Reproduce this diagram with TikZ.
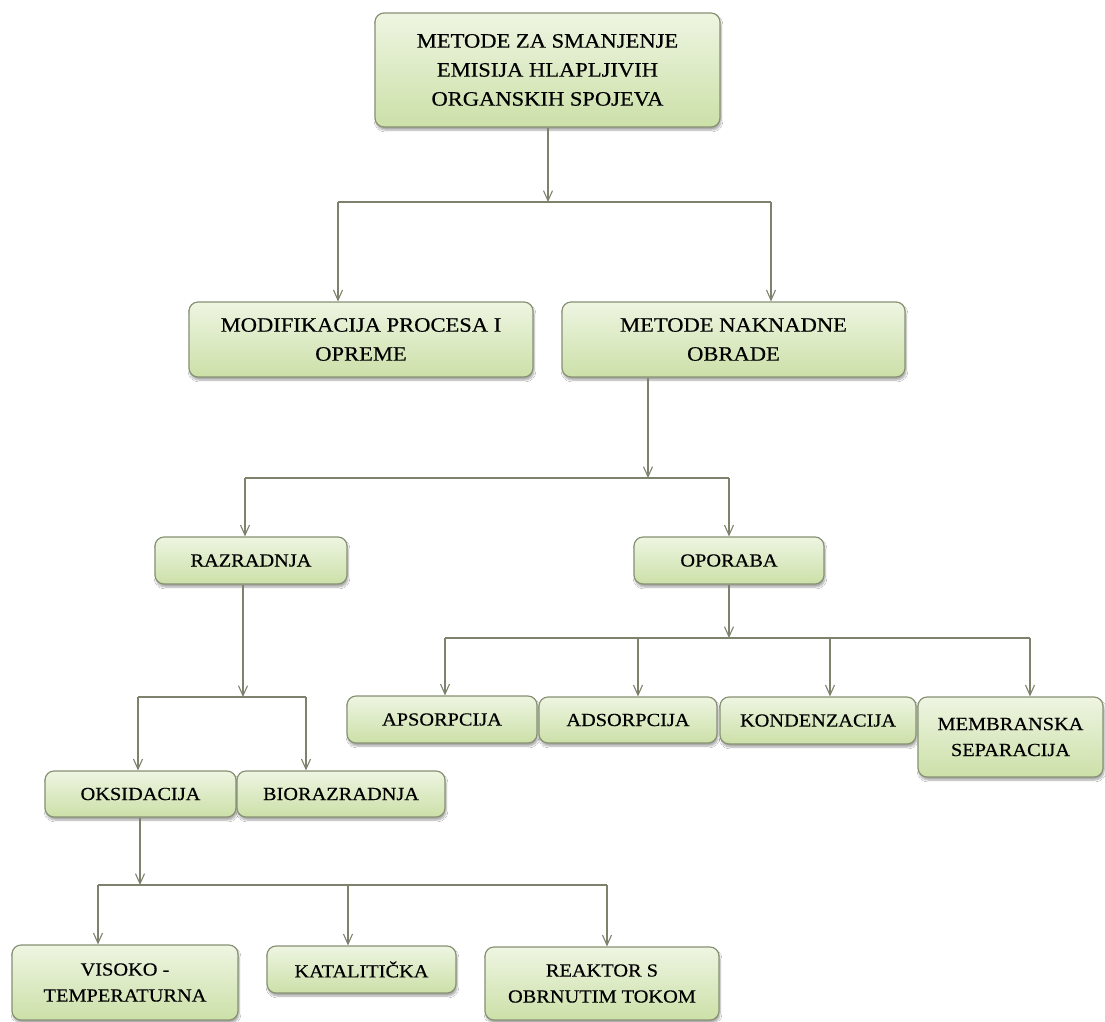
\documentclass[tikz,border=0pt]{standalone}
\usepackage{fontspec}
\setmainfont{Liberation Serif}[FakeStretch=1.1]
\newfontfamily\boxfont{Liberation Serif}[FakeStretch=1.1,FakeBold=0.4]
\usetikzlibrary{arrows.meta,shadows.blur}
\definecolor{boxtop}{RGB}{238,245,226}
\definecolor{boxbot}{RGB}{204,224,168}
\definecolor{boxline}{RGB}{135,145,115}
\definecolor{conncol}{RGB}{125,130,108}
\tikzset{
  box/.style={draw=boxline, line width=1.2pt, rounded corners=9pt,
    top color=boxtop, bottom color=boxbot, align=center, inner sep=0pt,
    font=\boxfont\fontsize{18.5}{26}\selectfont,
    blur shadow={shadow xshift=1pt, shadow yshift=-3pt, shadow blur steps=6, shadow opacity=35}},
  bigbox/.style={box, font=\boxfont\fontsize{20.5}{29}\selectfont},
  conn/.style={draw=conncol, line width=1.3pt},
  arr/.style={conn, -{Straight Barb[length=10pt,width=9pt,line width=1.1pt]}},
}
\begin{document}
\begin{tikzpicture}[x=1pt,y=-1pt]
\fill[white] (0,0) rectangle (1105,1021);
\useasboundingbox (0,0) rectangle (1105,1021);

% boxes
\node[bigbox, minimum width=345pt, minimum height=114pt] (top) at (547.5,70)
  {METODE ZA SMANJENJE\\EMISIJA HLAPLJIVIH\\ORGANSKIH SPOJEVA};
\node[bigbox, minimum width=344pt, minimum height=75pt] (mod) at (361,339.5)
  {MODIFIKACIJA PROCESA I\\OPREME};
\node[bigbox, minimum width=343pt, minimum height=75pt] (nak) at (733.5,339.5)
  {METODE NAKNADNE\\OBRADE};
\node[box, minimum width=192pt, minimum height=47pt] (raz) at (251,560.5) {RAZRADNJA};
\node[box, minimum width=190pt, minimum height=47pt] (opo) at (729,560.5) {OPORABA};
\node[box, minimum width=190pt, minimum height=47pt] (aps) at (442,719.5) {APSORPCIJA};
\node[box, minimum width=178pt, minimum height=46pt] (ads) at (628,720) {ADSORPCIJA};
\node[box, minimum width=196pt, minimum height=47pt] (kon) at (818,720.5) {KONDENZACIJA};
\node[box, minimum width=185pt, minimum height=80pt] (mem) at (1010.5,737) {MEMBRANSKA\\SEPARACIJA};
\node[box, minimum width=191pt, minimum height=46pt] (oks) at (140.5,794) {OKSIDACIJA};
\node[box, minimum width=208pt, minimum height=46pt] (bio) at (341,794) {BIORAZRADNJA};
\node[box, minimum width=226pt, minimum height=75pt] (vis) at (125,982.5) {VISOKO -\\TEMPERATURNA};
\node[box, minimum width=189pt, minimum height=47pt] (kat) at (361.5,969.5) {KATALITIČKA};
\node[box, minimum width=234pt, minimum height=73pt] (rea) at (602,983.5) {REAKTOR S\\OBRNUTIM TOKOM};

% level 1
\coordinate (b1) at (548,202);
\coordinate (b1l) at (338,202);
\coordinate (b1r) at (771,202);
\draw[arr] (top.south -| b1) -- (b1);
\draw[conn] (b1l) -- (b1r);
\draw[arr] (b1l) -- (mod.north -| b1l);
\draw[arr] (b1r) -- (nak.north -| b1r);

% level 2
\coordinate (b2) at (648,478);
\coordinate (b2l) at (245,478);
\coordinate (b2r) at (729,478);
\draw[arr] (nak.south -| b2) -- (b2);
\draw[conn] (b2l) -- (b2r);
\draw[arr] (b2l) -- (raz.north -| b2l);
\draw[arr] (b2r) -- (opo.north -| b2r);

% level 3 left
\coordinate (b3) at (243,697);
\coordinate (b3l) at (138,697);
\coordinate (b3r) at (306,697);
\draw[arr] (raz.south -| b3) -- (b3);
\draw[conn] (b3l) -- (b3r);
\draw[arr] (b3l) -- (oks.north -| b3l);
\draw[arr] (b3r) -- (bio.north -| b3r);

% level 3 right
\coordinate (b4) at (729,638);
\coordinate (b4a) at (445,638);
\coordinate (b4b) at (638,638);
\coordinate (b4c) at (830,638);
\coordinate (b4d) at (1030,638);
\draw[arr] (opo.south -| b4) -- (b4);
\draw[conn] (b4a) -- (b4d);
\draw[arr] (b4a) -- (aps.north -| b4a);
\draw[arr] (b4b) -- (ads.north -| b4b);
\draw[arr] (b4c) -- (kon.north -| b4c);
\draw[arr] (b4d) -- (mem.north -| b4d);

% level 4
\coordinate (b5) at (140,885);
\coordinate (b5a) at (98,885);
\coordinate (b5b) at (348,885);
\coordinate (b5c) at (607,885);
\draw[arr] (oks.south -| b5) -- (b5);
\draw[conn] (b5a) -- (b5c);
\draw[arr] (b5a) -- (vis.north -| b5a);
\draw[arr] (b5b) -- (kat.north -| b5b);
\draw[arr] (b5c) -- (rea.north -| b5c);
\end{tikzpicture}
\end{document}
